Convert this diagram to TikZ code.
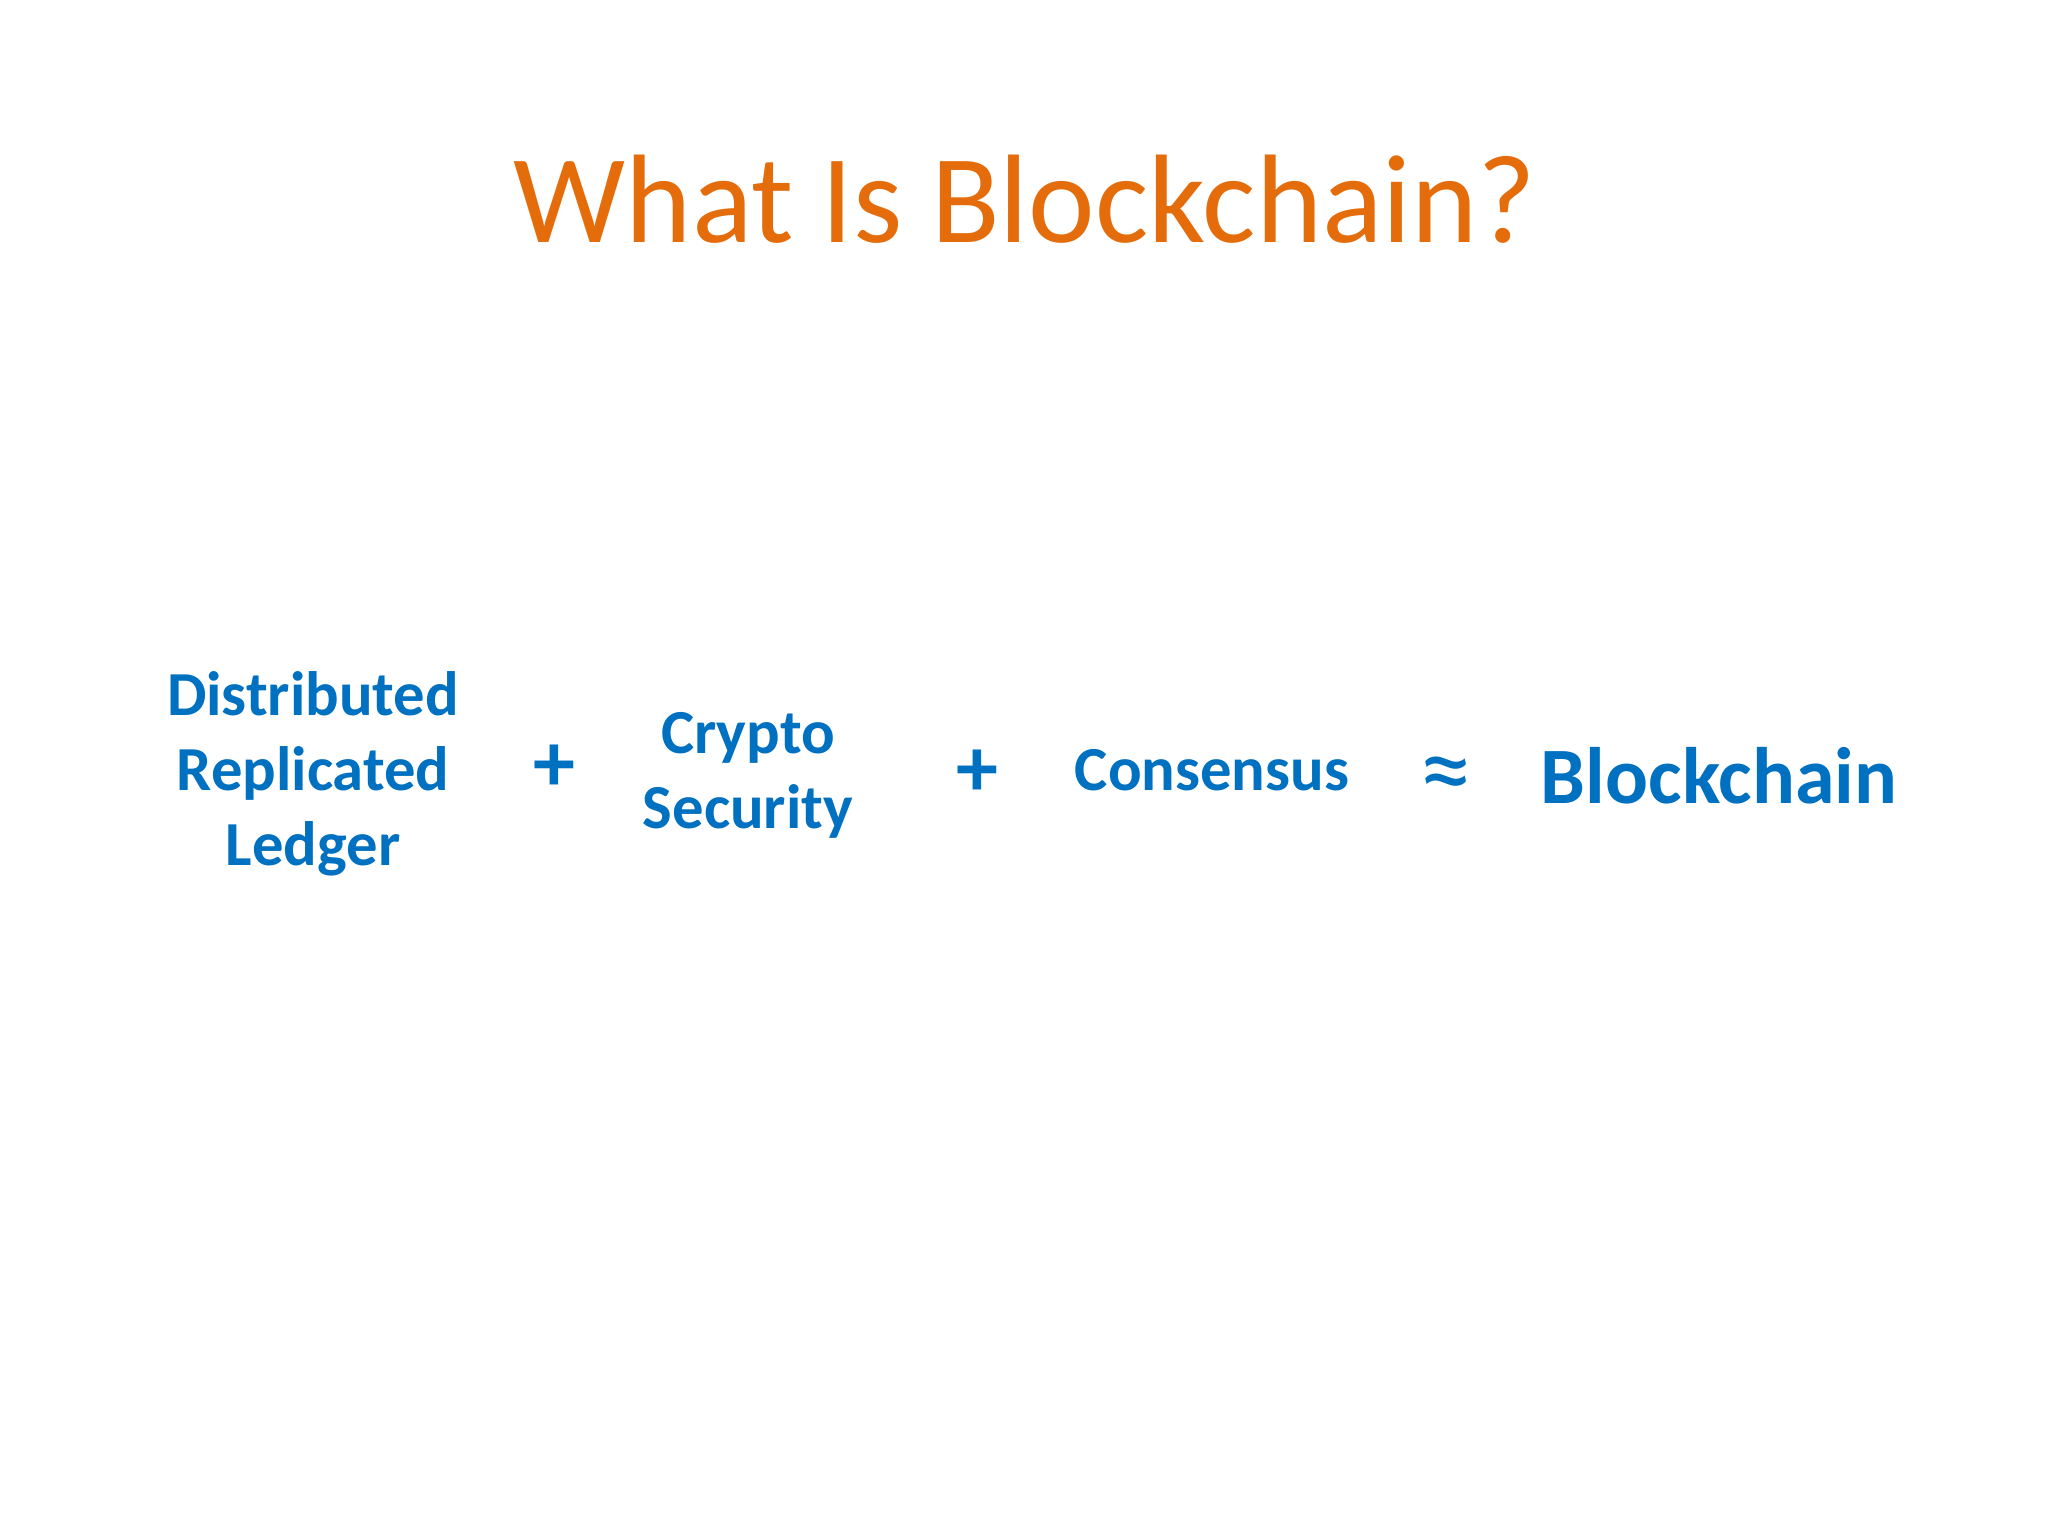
\documentclass[tikz,border=0pt]{standalone}
\usepackage{fontspec}
\setmainfont{Carlito}
\definecolor{titleorange}{HTML}{E46C0A}
\definecolor{termblue}{HTML}{0070C0}
\begin{document}
\begin{tikzpicture}[x=0.75pt,y=-0.75pt,
  title/.style={text=titleorange,font=\fontsize{94.5}{113}\selectfont,inner sep=0pt,anchor=base},
  term/.style={text=termblue,font=\bfseries\fontsize{47}{56}\selectfont,inner sep=0pt,align=center},
  op/.style={text=termblue,font=\bfseries\fontsize{63}{75}\selectfont,inner sep=0pt},
  big/.style={text=termblue,font=\bfseries\fontsize{60}{72}\selectfont,inner sep=0pt,anchor=base}]
\useasboundingbox[fill=white] (0,0) rectangle (2048,1536);
\node[title] (title) at (1025,242) {What Is Blockchain?};
\node[term,anchor=base] (drl) at (313,865) {Distributed\\Replicated\\Ledger};
\node[op] (plus1) at (554,768) {+};
\node[term,anchor=base] (cs) at (748,828) {Crypto\\Security};
\node[op] (plus2) at (977,773) {+};
\node[term,anchor=base] (cons) at (1212,790) {Consensus};
\node[op,font=\fontsize{80}{96}\selectfont] (approx) at (1446,781) {≈};
\node[big] (bc) at (1719,803) {Blockchain};
\end{tikzpicture}
\end{document}
